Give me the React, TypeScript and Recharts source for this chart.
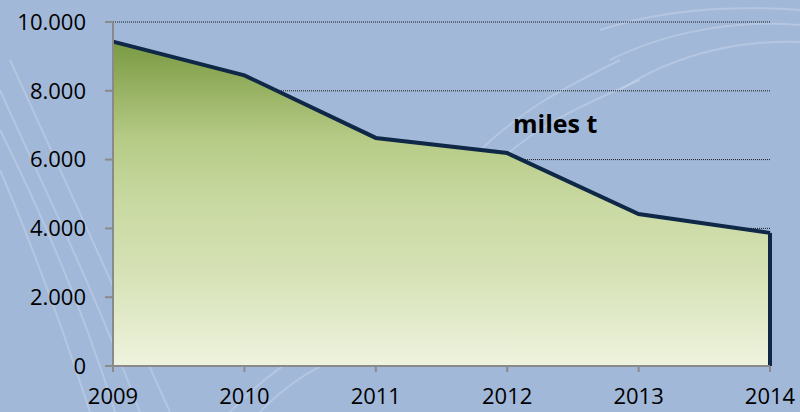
import { AreaChart, Area, XAxis, YAxis, CartesianGrid, ReferenceLine } from 'recharts';

const years = ['2009', '2010', '2011', '2012', '2013', '2014'];
const tonnes = [9430, 8450, 6630, 6190, 4420, 3870];
const yTicks = [0, 2000, 4000, 6000, 8000, 10000];
const seriesLabel = 'miles t';

const data = years.map((year, i) => ({ year, value: tonnes[i] }));
const fmt = (v: number) => (v === 0 ? '0' : v.toLocaleString('de-DE'));

const font = "'Open Sans', sans-serif";
const axisGrey = '#8a8a8a';

// decorative swirls of the slide background
const Backdrop = () => (
  <svg width={800} height={412} style={{ position: 'absolute', left: 0, top: 0 }}>
    <rect width={800} height={412} fill="#a2b8d8" />
    <g fill="none" stroke="#dfe8f5" strokeOpacity={0.3} strokeWidth={2}>
      <path d="M0 90 C 40 180, 90 280, 140 412" />
      <path d="M0 130 C 40 210, 80 300, 115 412" />
      <path d="M0 170 C 30 240, 60 320, 90 412" />
      <path d="M10 60 C 60 170, 120 300, 170 412" />
      <path d="M600 30 C 660 10, 730 5, 800 10" />
      <path d="M610 60 C 670 30, 740 20, 800 25" />
      <path d="M620 90 C 680 50, 750 40, 800 42" />
      <path d="M470 160 C 520 110, 560 90, 620 60" />
      <path d="M490 170 C 530 130, 570 110, 640 80" />
      <path d="M230 412 C 280 360, 330 330, 420 310" />
      <path d="M260 412 C 300 370, 350 345, 440 330" />
    </g>
  </svg>
);

const App = () => (
  <div style={{ position: 'fixed', left: 0, top: 0, width: 800, height: 412 }}>
    <Backdrop />
    <div style={{ position: 'absolute', left: 0, top: 0 }}>
      <AreaChart width={800} height={412} data={data} margin={{ top: 22, right: 30, bottom: 0, left: 0 }}>
        <defs>
          <linearGradient id="fillGreen" x1="0" y1="0" x2="0" y2="1">
            <stop offset="0%" stopColor="#7a9a42" />
            <stop offset="30%" stopColor="#b6cb86" />
            <stop offset="50%" stopColor="#c9d9a2" />
            <stop offset="70%" stopColor="#d5e1b4" />
            <stop offset="100%" stopColor="#eef3de" />
          </linearGradient>
        </defs>
        <CartesianGrid vertical={false} stroke="#1a1a1a" strokeDasharray="1 1" />
        <Area
          type="linear"
          dataKey="value"
          stroke="#0f2847"
          strokeWidth={4}
          fill="url(#fillGreen)"
          fillOpacity={1}
          dot={false}
          activeDot={false}
          isAnimationActive={false}
        />
        <ReferenceLine
          segment={[
            { x: years[years.length - 1], y: 0 },
            { x: years[years.length - 1], y: tonnes[tonnes.length - 1] },
          ]}
          stroke="#0f2847"
          strokeWidth={4}
        />
        <XAxis
          dataKey="year"
          height={46}
          tickSize={6}
          tickMargin={16}
          axisLine={{ stroke: axisGrey, strokeWidth: 2 }}
          tickLine={{ stroke: axisGrey, strokeWidth: 2 }}
          tick={{ fill: '#000', fontSize: 22, fontFamily: font }}
          interval={0}
        />
        <YAxis
          width={113}
          domain={[0, 10000]}
          ticks={yTicks}
          tickFormatter={fmt}
          tickSize={8}
          tickMargin={19}
          axisLine={{ stroke: axisGrey, strokeWidth: 2 }}
          tickLine={{ stroke: axisGrey, strokeWidth: 2 }}
          tick={{ fill: '#000', fontSize: 22, fontFamily: font }}
        />
      </AreaChart>
    </div>
    <div
      style={{
        position: 'absolute',
        left: 513,
        top: 108,
        fontFamily: font,
        fontWeight: 700,
        fontSize: 25,
        lineHeight: '30px',
        color: '#000',
        whiteSpace: 'nowrap',
      }}
    >
      {seriesLabel}
    </div>
  </div>
);

export default App;
